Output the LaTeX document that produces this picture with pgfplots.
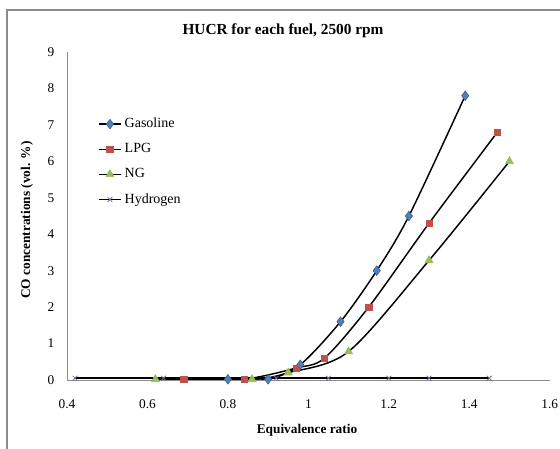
\documentclass[border=0pt]{standalone}
\usepackage{fontspec}
\setmainfont{Liberation Serif}
\usepackage{pgfplots}
\pgfplotsset{compat=1.18}
\definecolor{gasC}{HTML}{4F81BD}
\definecolor{lpgC}{HTML}{C0504D}
\definecolor{ngC}{HTML}{9BBB59}
\definecolor{hyC}{HTML}{8064A2}
\definecolor{frameC}{HTML}{8C8C8C}

\begin{document}
\begin{tikzpicture}[x=0.75pt,y=0.75pt]
\useasboundingbox (0,0) rectangle (560,449);
\fill[white] (0,0) rectangle (560,449);
\draw[frameC,line width=0.9pt] (7,-20) -- (7,439) -- (580,439);
\node[font=\bfseries\fontsize{11.5}{13}\selectfont] at (283,418) {HUCR for each fuel, 2500 rpm};
\node[font=\bfseries\fontsize{10}{12}\selectfont] at (307,19) {Equivalence ratio};
\node[font=\bfseries\fontsize{10}{12}\selectfont,rotate=90] at (27,229) {CO concentrations (vol. \%)};
\begin{axis}[
    at={(50.25pt,51.75pt)}, anchor=south west,
    scale only axis,
    width=362pt, height=246pt,
    xmin=0.4, xmax=1.6, ymin=0, ymax=9,
    xtick={0.4,0.6,...,1.6},
    ytick={0,1,...,9},
    axis x line=bottom, axis y line=left,
    axis line style={frameC,-},
    major tick length=0pt,
    tick label style={font=\fontsize{10}{12}\selectfont},
    /pgf/number format/assume math mode=true,
    xticklabel style={yshift=-11pt},
    yticklabel style={xshift=-6pt},
    legend style={draw=none,fill=none,font=\fontsize{10.5}{12}\selectfont,
        at={(0.055,0.815)},anchor=north west,row sep=6.3pt},
    legend cell align={left},
    legend image post style={sharp plot},
    every axis plot/.append style={black,line width=1.1pt},
]
\addplot[smooth,mark=diamond*,mark size=3.6pt,mark options={fill=gasC,draw=gasC!70!black,line width=0.4pt}]
  coordinates {(0.80,0.02) (0.90,0.02) (0.98,0.42) (1.08,1.60) (1.17,3.00) (1.25,4.50) (1.39,7.80)};
\addlegendentry{Gasoline}
\addplot[smooth,mark=square*,mark size=2.4pt,mark options={fill=lpgC,draw=lpgC,line width=0.4pt}]
  coordinates {(0.69,0.02) (0.84,0.02) (0.97,0.33) (1.04,0.60) (1.15,2.00) (1.30,4.30) (1.47,6.80)};
\addlegendentry{LPG}
\addplot[smooth,mark=triangle*,mark size=3.5pt,mark options={fill=ngC,draw=ngC,line width=0.4pt}]
  coordinates {(0.62,0.02) (0.86,0.02) (0.95,0.20) (1.10,0.78) (1.30,3.28) (1.50,6.00)};
\addlegendentry{NG}
\addplot[mark=x,mark size=2.5pt,mark options={draw=hyC,line width=0.6pt}]
  coordinates {(0.42,0.05) (0.64,0.05) (0.92,0.05) (1.05,0.05) (1.20,0.05) (1.30,0.05) (1.45,0.05)};
\addlegendentry{Hydrogen}
\end{axis}
\end{tikzpicture}
\end{document}
